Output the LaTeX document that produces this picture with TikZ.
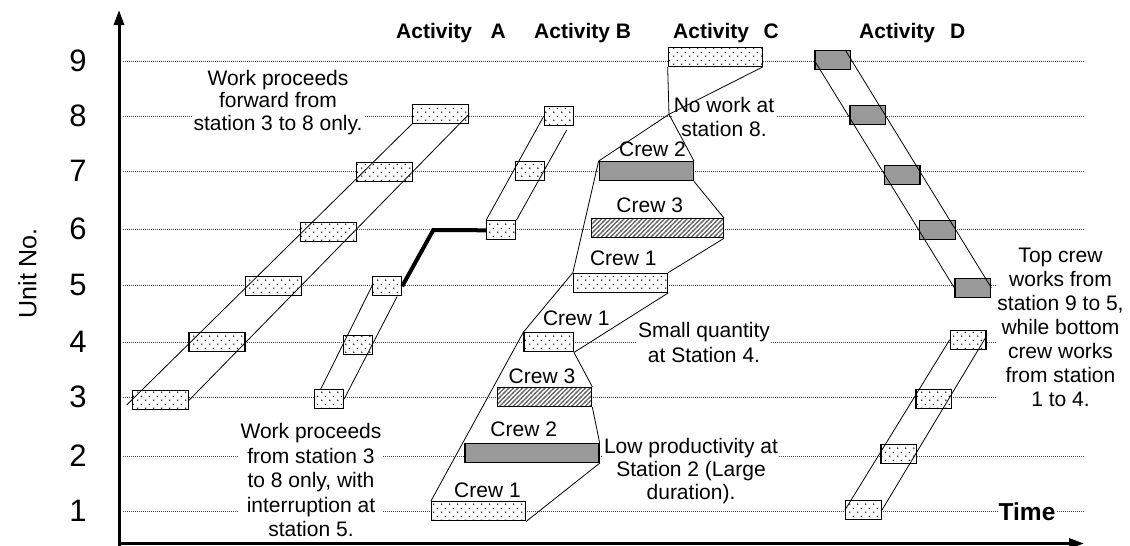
\documentclass[tikz,border=0pt]{standalone}
\usepackage{fontspec}
\setmainfont{Liberation Sans}
\usetikzlibrary{patterns,arrows.meta,calc}

\definecolor{boxgray}{RGB}{153,153,153}
\definecolor{gridc}{RGB}{70,70,70}

\pgfdeclarepatternformonly{sparsedots}{\pgfpointorigin}{\pgfpoint{8pt}{8pt}}{\pgfpoint{8pt}{8pt}}{%
  \pgfpathcircle{\pgfpoint{2pt}{2pt}}{0.85pt}%
  \pgfpathcircle{\pgfpoint{6pt}{6pt}}{0.85pt}%
  \pgfusepath{fill}%
}
\pgfdeclarepatternformonly{myhatch}{\pgfpoint{-1pt}{-1pt}}{\pgfpoint{5.5pt}{5.5pt}}{\pgfpoint{4.5pt}{4.5pt}}{%
  \pgfsetlinewidth{1.1pt}%
  \pgfpathmoveto{\pgfpoint{-1pt}{-1pt}}%
  \pgfpathlineto{\pgfpoint{5.5pt}{5.5pt}}%
  \pgfusepath{stroke}%
}

\tikzset{
  barbox/.style={draw=black, line width=1.3pt, inner sep=0pt, minimum height=19pt},
  dotbox/.style={barbox, preaction={fill=white}, pattern=sparsedots, pattern color=black},
  graybox/.style={barbox, fill=boxgray},
  hatchbox/.style={barbox, preaction={fill=white}, pattern=myhatch, pattern color=black!60},
  link/.style={line width=0.8pt},
  gridline/.style={gridc, line width=0.6pt, dash pattern=on 0.8pt off 1.2pt},
  notebox/.style={fill=white, inner sep=1.5pt, align=center, font=\fontsize{21}{24}\selectfont},
  crewlbl/.style={inner sep=0pt, font=\fontsize{21}{24}\selectfont},
  acttitle/.style={inner sep=0pt, anchor=base west, font=\bfseries\fontsize{21}{24}\selectfont},
  axnum/.style={inner sep=0pt, font=\fontsize{31}{31}\selectfont},
}

\begin{document}
\begin{tikzpicture}[x=1pt,y=-1pt]
\useasboundingbox (0,0) rectangle (1130,546);

% grid
\foreach \yy in {511,456,397,342,285,229,171,116,61}
  \draw[gridline] (123,\yy) -- (1085,\yy);

% axes
\coordinate (Ob) at (119,546);
\coordinate (Ol) at (117.5,543.5);
\coordinate (ytip) at (119,10);
\coordinate (xtip) at (1084,543.5);
\draw[line width=3pt, -{Triangle[length=15pt,width=10pt]}] (Ob) -- (ytip);
\draw[line width=3pt, -{Triangle[length=15pt,width=10pt]}] (Ol) -- (xtip);

% axis labels
\node[axnum] (u9) at (78,61) {9};
\node[axnum] (u8) at (78,116) {8};
\node[axnum] (u7) at (78,171) {7};
\node[axnum] (u6) at (78,229) {6};
\node[axnum] (u5) at (78,285) {5};
\node[axnum] (u4) at (78,342) {4};
\node[axnum] (u3) at (78,397) {3};
\node[axnum] (u2) at (78,456) {2};
\node[axnum] (u1) at (78,511) {1};
\node[rotate=90, inner sep=0pt, font=\fontsize{25}{25}\selectfont] (ylab) at (27.5,273.3) {Unit No.};
\node[fill=white, inner sep=1pt, font=\bfseries\fontsize{24.5}{25}\selectfont] (time) at (1027,512) {Time};

% titles
\node[acttitle] (tA) at (396,38) {Activity\hspace{18.5pt}A};
\node[acttitle] (tB) at (534,38) {Activity B};
\node[acttitle] (tC) at (673,38) {Activity\hspace{14.5pt}C};
\node[acttitle] (tD) at (859,38) {Activity\hspace{15pt}D};

% notes
\node[notebox, font=\fontsize{21}{22.5}\selectfont] (n1) at (278,102.5) {Work proceeds\\forward from\\station 3 to 8 only.};
\node[notebox, font=\fontsize{21}{24.5}\selectfont] (n2) at (311,480) {Work proceeds\\from station 3\\to 8 only, with\\interruption at\\station 5.};
\node[notebox, font=\fontsize{21}{23.7}\selectfont] (n3) at (724,116.7) {No work at\\station 8.};
\node[notebox, font=\fontsize{21}{24.4}\selectfont] (n4) at (704,342.5) {Small quantity\\at Station 4.};
\node[notebox, font=\fontsize{21}{23.3}\selectfont] (n5) at (691,471) {Low productivity at\\Station 2 (Large\\duration).};
\node[notebox] (n6) at (1060.5,327) {Top crew\\works from\\station 9 to 5,\\while bottom\\crew works\\from station\\1 to 4.};

% Activity A boxes
\node[dotbox, minimum width=56pt] (a3) at (160.3,400.3) {};
\node[dotbox, minimum width=56pt] (a4) at (217,342.3) {};
\node[dotbox, minimum width=56pt] (a5) at (273.7,286.3) {};
\node[dotbox, minimum width=56pt] (a6) at (328.3,231.8) {};
\node[dotbox, minimum width=56pt] (a7) at (384.7,171.8) {};
\node[dotbox, minimum width=56pt] (a8) at (440.7,113.8) {};

% Activity B boxes
\node[dotbox, minimum width=29pt] (b3) at (329,399) {};
\node[dotbox, minimum width=29pt] (b4) at (358,344.7) {};
\node[dotbox, minimum width=29pt] (b5) at (387,286.3) {};
\node[dotbox, minimum width=29pt] (b6) at (501.3,230.3) {};
\node[dotbox, minimum width=29pt] (b7) at (529.7,170.7) {};
\node[dotbox, minimum width=29pt] (b8) at (558.8,116.3) {};

% Activity C boxes
\node[dotbox, minimum width=94pt] (c9) at (715.3,56.7) {};
\node[graybox, minimum width=94pt] (c7) at (646.3,171.2) {};
\node[hatchbox, minimum width=131.6pt] (c6) at (657.5,228.2) {};
\node[dotbox, minimum width=94pt] (c5) at (620.5,282.8) {};
\node[dotbox, minimum width=49.3pt] (c4) at (548.7,342.3) {};
\node[hatchbox, minimum width=94pt] (c3) at (544.7,397) {};
\node[graybox, minimum width=134pt] (c2) at (532,453) {};
\node[dotbox, minimum width=94pt] (c1) at (478.5,511.3) {};

% Activity D boxes
\node[graybox, minimum width=35.7pt] (d9) at (832.8,60.3) {};
\node[graybox, minimum width=35.7pt] (d8) at (867.8,115.3) {};
\node[graybox, minimum width=35.7pt] (d7) at (902.2,174.7) {};
\node[graybox, minimum width=35.7pt] (d6) at (937.5,229.7) {};
\node[graybox, minimum width=35.7pt] (d5) at (972.8,287.8) {};
\node[dotbox, minimum width=35.7pt] (e4) at (968.2,339.7) {};
\node[dotbox, minimum width=35.7pt] (e3) at (933.8,399.2) {};
\node[dotbox, minimum width=35.7pt] (e2) at (898.8,453.7) {};
\node[dotbox, minimum width=35.7pt] (e1) at (863.3,510.3) {};

% Activity A connectors
\coordinate (aL) at (126.7,405);
\draw[link] (aL) -- (a8.south west);
\draw[link] (a3.east) -- (a8.east);

% Activity B connectors
\draw[link] ([xshift=7pt]b3.north west) -- (b5.west);
\draw[link] (b3.east) -- ([xshift=-5pt]b5.south east);
\coordinate (bk) at (433.3,230);
\draw[line width=4pt] (b5.east) -- (bk) -- (b6.west);
\draw[link] (b6.north west) -- (b8.west);
\coordinate (bR) at (566.7,130);
\draw[link] (b6.north east) -- (bR);

% Activity C connectors
\coordinate (V) at (669,114.3);
\draw[link] (c1.north west) -- (c4.north west) -- (c5.north west) -- (c7.north west) -- (V) -- (c9.south west);
\draw[link] (c9.south east) -- (V) -- (c7.north east);
\draw[link] (c7.south east) -- (c6.north east);
\draw[link] (c6.south east) -- (c5.north east);
\draw[link] (c5.south east) -- (c4.south east);
\draw[link] (c4.south east) -- (c3.north east);
\draw[link] (c3.south east) -- (c2.north east);
\draw[link] (c2.south east) -- (c1.south east);

% Activity D connectors
\draw[link] (d9.west) -- (d5.west);
\draw[link] ([xshift=-6pt]d9.north east) -- (d5.east);
\draw[link] (e1.west) -- (e4.west);
\draw[link] (e1.east) -- ([yshift=4pt]e4.east);

% crew labels
\node[crewlbl] (k7) at (652.5,149) {Crew 2};
\node[crewlbl] (k6) at (649.7,205) {Crew 3};
\node[crewlbl] (k5) at (623.3,258.3) {Crew 1};
\node[crewlbl] (k4) at (576.3,318.3) {Crew 1};
\node[crewlbl] (k3) at (542,376) {Crew 3};
\node[crewlbl] (k2) at (523.7,429.3) {Crew 2};
\node[crewlbl] (k1) at (487.5,490) {Crew 1};
\end{tikzpicture}
\end{document}
